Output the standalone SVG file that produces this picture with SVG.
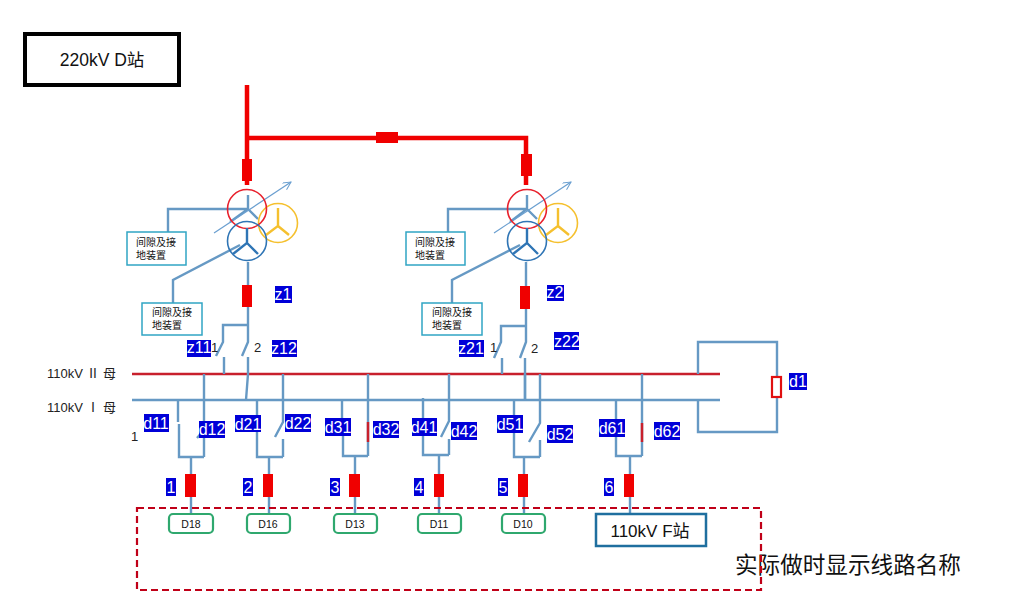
<svg xmlns="http://www.w3.org/2000/svg" width="1009" height="616" viewBox="0 0 1009 616">
<defs>
<marker id="arr" markerWidth="10" markerHeight="10" refX="8" refY="4" orient="auto" markerUnits="userSpaceOnUse"><path d="M0,0 L8,4 L0,8" fill="none" stroke="#6a9fd0" stroke-width="1"/></marker>
</defs>
<style>
text{font-family:"Liberation Sans","Noto Sans CJK SC",sans-serif}
.w{fill:none;stroke:#6699c4;stroke-width:2.4}
.r{fill:none;stroke:#f00000;stroke-width:4.5}
.brk{fill:#f00000}
.tag{fill:#0000d8}
.tt{fill:#fff;font-size:16px;text-anchor:middle}
.box{fill:#fff;stroke:#31a5c4;stroke-width:1.5}
.bt{font-size:10px;fill:#111}
.d{fill:#fff;stroke:#2fa86e;stroke-width:2.2}
.dt{font-size:10.5px;fill:#111;text-anchor:middle}
.lb{font-size:13px;fill:#222}
</style>
<g id="connectors">
<path class="r" d="M247,85V185M247,138H526V185"/>
<path d="M132,374H720" fill="none" stroke="#c8202c" stroke-width="2.4"/>
<path class="w" d="M132,400H720"/>
<!-- T1 -->
<path class="w" d="M168,232V209H248M248,195V209L230,222M248,209L258,219"/>
<path class="w" d="M173,305V280L240,245M248,262V325M248,325H223V342L216,356M248,325V342L242,356M224,357V374M248,357V374L246,400"/>
<!-- T2 -->
<path class="w" d="M448,232V209H527M527,195V209L510,222M527,209L537,219"/>
<path class="w" d="M452,303V280L520,245M526,262V326M526,326H501V342L494,358M526,326V342L520,358M502,358V374M525,358V400"/>
<!-- feeders -->
<path class="w" d="M178,400V422M179,424V457H204M204,374V457M204,430L197,438M191,457V514"/>
<path class="w" d="M257,400V457H283M283,374V422L275,437M283,439V457M269,457V514"/>
<path class="w" d="M342,400V426M343,436V456H368M368,374V456M355,456V514"/>
<path class="w" d="M423,398V455H449M449,374V421L441,437M449,439V455M439,455V514"/>
<path class="w" d="M514,400V457H540M525,374V400M540,374V423L529,442M540,440V457M524,457V514"/>
<path class="w" d="M616,400V456H642M642,374V456M630,456V516"/>
<path class="w" d="M698,374V342H777V432H698V400"/>
<path d="M214,233L291,182" stroke="#6a9fd0" stroke-width="1.2" fill="none" marker-end="url(#arr)"/>
<path d="M494,233L571,182" stroke="#6a9fd0" stroke-width="1.2" fill="none" marker-end="url(#arr)"/>
<path d="M368,422V442M642,423V442" stroke="#c8202c" stroke-width="2.5" fill="none"/>
</g>
<g id="station-d"><rect x="25" y="34" width="154" height="51" fill="#fff" stroke="#000" stroke-width="4"/><text x="102" y="66" font-size="17.5" text-anchor="middle" fill="#111">220kV D站</text></g>
<g id="breakers">
<rect class="brk" x="376" y="132" width="22" height="11"/>
<rect class="brk" x="242" y="159" width="10" height="22"/>
<rect class="brk" x="521" y="154" width="11" height="22"/>
<rect class="brk" x="242" y="285" width="10" height="22"/>
<rect class="brk" x="520" y="286" width="10" height="23"/>
<rect class="brk" x="185" y="474" width="11" height="23"/>
<rect class="brk" x="263" y="474" width="10" height="23"/>
<rect class="brk" x="349" y="474" width="11" height="23"/>
<rect class="brk" x="434" y="474" width="10" height="23"/>
<rect class="brk" x="518" y="474" width="10" height="23"/>
<rect class="brk" x="624" y="474" width="10" height="23"/>
<rect x="772" y="377" width="9" height="20" fill="#fff" stroke="#e01010" stroke-width="2.2"/>
</g>
<g id="transformer-1" fill="none">
<circle cx="278" cy="223" r="19.5" stroke="#f5c02e" stroke-width="1.6"/>
<path d="M278,208V226L266,235M278,226L289,235" stroke="#f5c02e" stroke-width="2.4"/>
<circle cx="247" cy="209" r="19.5" stroke="#e8202c" stroke-width="1.6"/>
<circle cx="247" cy="241" r="19.5" stroke="#2f75b5" stroke-width="1.6"/>
<path d="M247,228V243L233,254M247,243L258,254" stroke="#2f75b5" stroke-width="2.4"/>
</g>
<g id="transformer-2" fill="none">
<circle cx="558" cy="223" r="19.5" stroke="#f5c02e" stroke-width="1.6"/>
<path d="M558,208V226L546,235M558,226L569,235" stroke="#f5c02e" stroke-width="2.4"/>
<circle cx="527" cy="209" r="19.5" stroke="#e8202c" stroke-width="1.6"/>
<circle cx="527" cy="241" r="19.5" stroke="#2f75b5" stroke-width="1.6"/>
<path d="M527,228V243L513,254M527,243L538,254" stroke="#2f75b5" stroke-width="2.4"/>
</g>
<g id="gap-1"><rect class="box" x="127" y="232" width="59" height="33"/><text class="bt" x="136" y="246">间隙及接</text><text class="bt" x="136" y="259">地装置</text></g>
<g id="gap-2"><rect class="box" x="142" y="303" width="60" height="32"/><text class="bt" x="152" y="316">间隙及接</text><text class="bt" x="152" y="329">地装置</text></g>
<g id="gap-3"><rect class="box" x="406" y="232" width="59" height="33"/><text class="bt" x="415" y="246">间隙及接</text><text class="bt" x="415" y="259">地装置</text></g>
<g id="gap-4"><rect class="box" x="422" y="303" width="60" height="32"/><text class="bt" x="432" y="316">间隙及接</text><text class="bt" x="432" y="329">地装置</text></g>
<g id="labels">
<text class="lb" x="47" y="378">110kV Ⅱ 母</text>
<text class="lb" x="47" y="412">110kV Ⅰ 母</text>
<text class="lb" x="211" y="352">1</text><text class="lb" x="254" y="352">2</text>
<text class="lb" x="490" y="352">1</text><text class="lb" x="531" y="353">2</text>
<text class="lb" x="131" y="441">1</text>
<text x="735" y="573" font-size="22.6" fill="#111">实际做时显示线路名称</text>
</g>
<g id="tags">
<rect class="tag" x="275" y="286" width="17" height="17"/><text class="tt" x="283" y="300">z1</text>
<rect class="tag" x="547" y="285" width="17" height="16"/><text class="tt" x="555" y="298">z2</text>
<rect class="tag" x="187" y="340" width="24" height="17"/><text class="tt" x="199" y="353">z11</text>
<rect class="tag" x="272" y="340" width="25" height="17"/><text class="tt" x="284" y="354">z12</text>
<rect class="tag" x="459" y="340" width="25" height="17"/><text class="tt" x="471" y="354">z21</text>
<rect class="tag" x="554" y="332" width="25" height="18"/><text class="tt" x="567" y="347">z22</text>
<rect class="tag" x="144" y="414" width="25" height="18"/><text class="tt" x="156" y="429">d11</text>
<rect class="tag" x="199" y="421" width="26" height="17"/><text class="tt" x="212" y="435">d12</text>
<rect class="tag" x="235" y="415" width="26" height="17"/><text class="tt" x="248" y="430">d21</text>
<rect class="tag" x="285" y="414" width="26" height="18"/><text class="tt" x="298" y="429">d22</text>
<rect class="tag" x="325" y="418" width="26" height="18"/><text class="tt" x="338" y="433">d31</text>
<rect class="tag" x="373" y="421" width="26" height="17"/><text class="tt" x="386" y="435">d32</text>
<rect class="tag" x="412" y="418" width="25" height="18"/><text class="tt" x="424" y="433">d41</text>
<rect class="tag" x="451" y="422" width="26" height="18"/><text class="tt" x="464" y="437">d42</text>
<rect class="tag" x="497" y="415" width="26" height="18"/><text class="tt" x="510" y="430">d51</text>
<rect class="tag" x="547" y="425" width="26" height="18"/><text class="tt" x="560" y="440">d52</text>
<rect class="tag" x="599" y="419" width="26" height="18"/><text class="tt" x="612" y="434">d61</text>
<rect class="tag" x="654" y="422" width="26" height="18"/><text class="tt" x="667" y="437">d62</text>
<rect class="tag" x="789" y="373" width="18" height="17"/><text class="tt" x="798" y="387">d1</text>
<rect class="tag" x="166" y="478" width="10" height="18"/><text class="tt" x="171" y="493">1</text>
<rect class="tag" x="243" y="478" width="10" height="18"/><text class="tt" x="248" y="493">2</text>
<rect class="tag" x="330" y="478" width="10" height="18"/><text class="tt" x="335" y="493">3</text>
<rect class="tag" x="414" y="478" width="10" height="18"/><text class="tt" x="419" y="493">4</text>
<rect class="tag" x="498" y="478" width="10" height="18"/><text class="tt" x="503" y="493">5</text>
<rect class="tag" x="604" y="478" width="10" height="18"/><text class="tt" x="609" y="493">6</text>
</g>
<g id="region"><rect x="137" y="508" width="624" height="82" fill="none" stroke="#c00018" stroke-width="2.2" stroke-dasharray="7 4"/></g>
<g id="D18"><rect class="d" x="169" y="514" width="44" height="19" rx="4"/><text class="dt" x="191" y="528">D18</text></g>
<g id="D16"><rect class="d" x="247" y="514" width="43" height="19" rx="4"/><text class="dt" x="268" y="528">D16</text></g>
<g id="D13"><rect class="d" x="334" y="514" width="43" height="19" rx="4"/><text class="dt" x="355" y="528">D13</text></g>
<g id="D11"><rect class="d" x="418" y="514" width="43" height="19" rx="4"/><text class="dt" x="439" y="528">D11</text></g>
<g id="D10"><rect class="d" x="502" y="514" width="43" height="19" rx="4"/><text class="dt" x="523" y="528">D10</text></g>
<g id="station-f"><rect x="596" y="514" width="110" height="32" fill="#fff" stroke="#1f6f9f" stroke-width="2.5"/><text x="650" y="537" font-size="17" text-anchor="middle" fill="#111">110kV F站</text></g>
</svg>
